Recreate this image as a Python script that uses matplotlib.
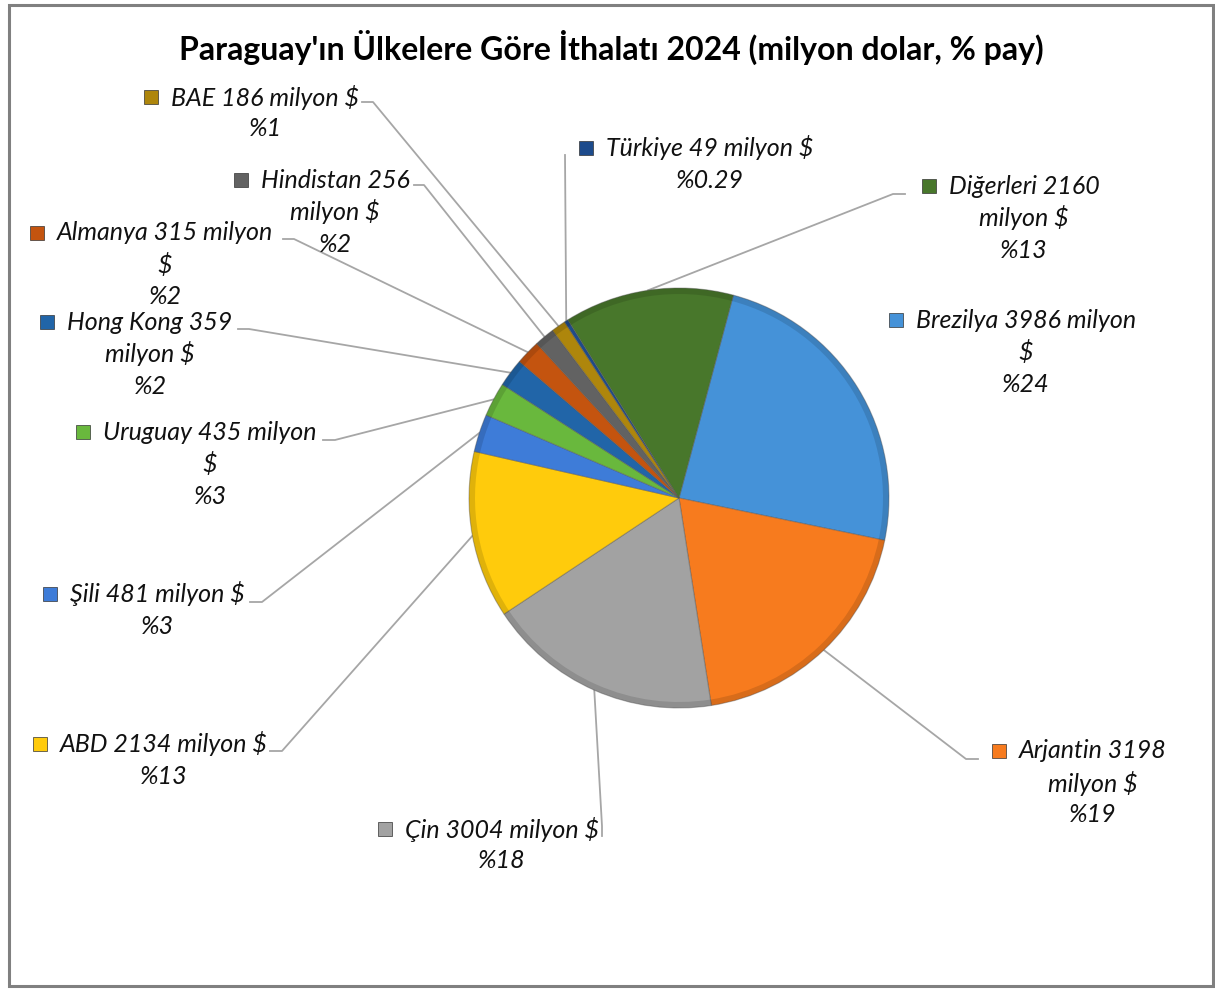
"""Pie chart: Paraguay imports by country, 2024 (million USD, % share)."""
import matplotlib
matplotlib.use("Agg")
import matplotlib.pyplot as plt
from matplotlib.patches import Rectangle, Wedge
import numpy as np

# data
COUNTRIES = ["Brezilya", "Arjantin", "Çin", "ABD", "Şili", "Uruguay",
             "Hong Kong", "Almanya", "Hindistan", "BAE", "Türkiye", "Diğerleri"]
VALUES = [3986, 3198, 3004, 2134, 481, 435, 359, 315, 256, 186, 49, 2160]
PCT_LABELS = ["24", "19", "18", "13", "3", "3", "2", "2", "2", "1", "0.29", "13"]

COLORS = ["#4592D8", "#F77B1E", "#A2A2A2", "#FFCB0C", "#3E7CD8", "#69B83D",
          "#2165A8", "#C4540F", "#626262", "#AE860C", "#1D4B8C", "#48772B"]

# label layout: (center x, first-line y, wrap style, leader stub points)
# wrap: A = "name val milyon $ / %p", B = "name val / milyon $ / %p",
#       C = "name val milyon / $ / %p"
LAYOUT = {
    "Brezilya":  (1026, 320, "C", None),
    "Arjantin":  (1093, 751, "B", [(978, 759), (966, 759)]),
    "Çin":       (502, 829, "A", [(602, 836), (602, 826)]),
    "ABD":       (164, 744, "A", [(270, 751), (282, 751)]),
    "Şili":      (157, 594, "A", [(250, 602), (262, 602)]),
    "Uruguay":   (210, 432, "C", [(323, 440), (335, 440)]),
    "Hong Kong": (150, 322, "B", [(238, 329), (249, 329)]),
    "Almanya":   (165, 233, "C", [(283, 239), (294, 239)]),
    "Hindistan": (335, 180, "B", [(414, 185), (424, 185)]),
    "BAE":       (265, 97, "A", [(362, 102), (373, 102)]),
    "Türkiye":   (710, 148, "A", [(565, 155)]),
    "Diğerleri": (1024, 186, "B", [(905, 194), (893, 194)]),
}

W, H = 1215, 989
CX, CY, R = 679, 498, 210
LINE_H = 32
FONT = ["Lato", "DejaVu Sans"]


def label_lines(name, val, pct, style):
    if style == "A":
        return [f"{name} {val} milyon $", f"%{pct}"]
    if style == "B":
        return [f"{name} {val}", "milyon $", f"%{pct}"]
    return [f"{name} {val} milyon", "$", f"%{pct}"]


fig = plt.figure(figsize=(W / 100, H / 100), dpi=100)
ax = fig.add_axes([0, 0, 1, 1])

# y axis inverted -> counterclock in data is clockwise on screen
start = 285
wedges, _ = ax.pie(VALUES, colors=COLORS, startangle=start, counterclock=True,
                   center=(CX, CY), radius=R,
                   wedgeprops=dict(edgecolor="#55555566", linewidth=0.8))
ax.set_xlim(0, W)
ax.set_ylim(H, 0)
ax.set_aspect("equal")
ax.axis("off")

# darker rim for a bit of bevel feel
for w in wedges:
    ax.add_patch(Wedge((CX, CY), R, w.theta1, w.theta2, width=6,
                       facecolor="black", alpha=0.12, edgecolor="none"))

ax.text(611, 47, "Paraguay'ın Ülkelere Göre İthalatı 2024 (milyon dolar, % pay)",
        ha="center", va="center", fontsize=23, fontweight="bold",
        family=FONT, color="#000000")

fig.canvas.draw()
renderer = fig.canvas.get_renderer()
inv = ax.transData.inverted()

total = sum(VALUES)
cum = 0
for name, val, pct, color in zip(COUNTRIES, VALUES, PCT_LABELS, COLORS):
    mid = start + (cum + val / 2) / total * 360
    cum += val
    lx, ly, style, stub = LAYOUT[name]
    lines = label_lines(name, val, pct, style)
    first = None
    for k, line in enumerate(lines):
        t = ax.text(lx, ly + k * LINE_H, line, ha="center", va="center",
                    fontsize=18, style="italic", family=FONT, color="#111111")
        if k == 0:
            first = t
    bb = first.get_window_extent(renderer)
    x0 = inv.transform([(bb.x0, 0)])[0][0]
    ax.add_patch(Rectangle((x0 - 27, ly - 7), 14, 14, facecolor=color,
                           edgecolor="#333333", linewidth=0.5))
    if stub:
        ex = CX + R * np.cos(np.radians(mid))
        ey = CY + R * np.sin(np.radians(mid))
        xs = [p[0] for p in stub] + [ex]
        ys = [p[1] for p in stub] + [ey]
        ax.plot(xs, ys, color="#A6A6A6", linewidth=1.3, zorder=0.5)

ax.add_patch(Rectangle((9, 5), 1204, 981, fill=False, edgecolor="#808080",
                       linewidth=2.2))

fig.savefig("out.png", dpi=100)
